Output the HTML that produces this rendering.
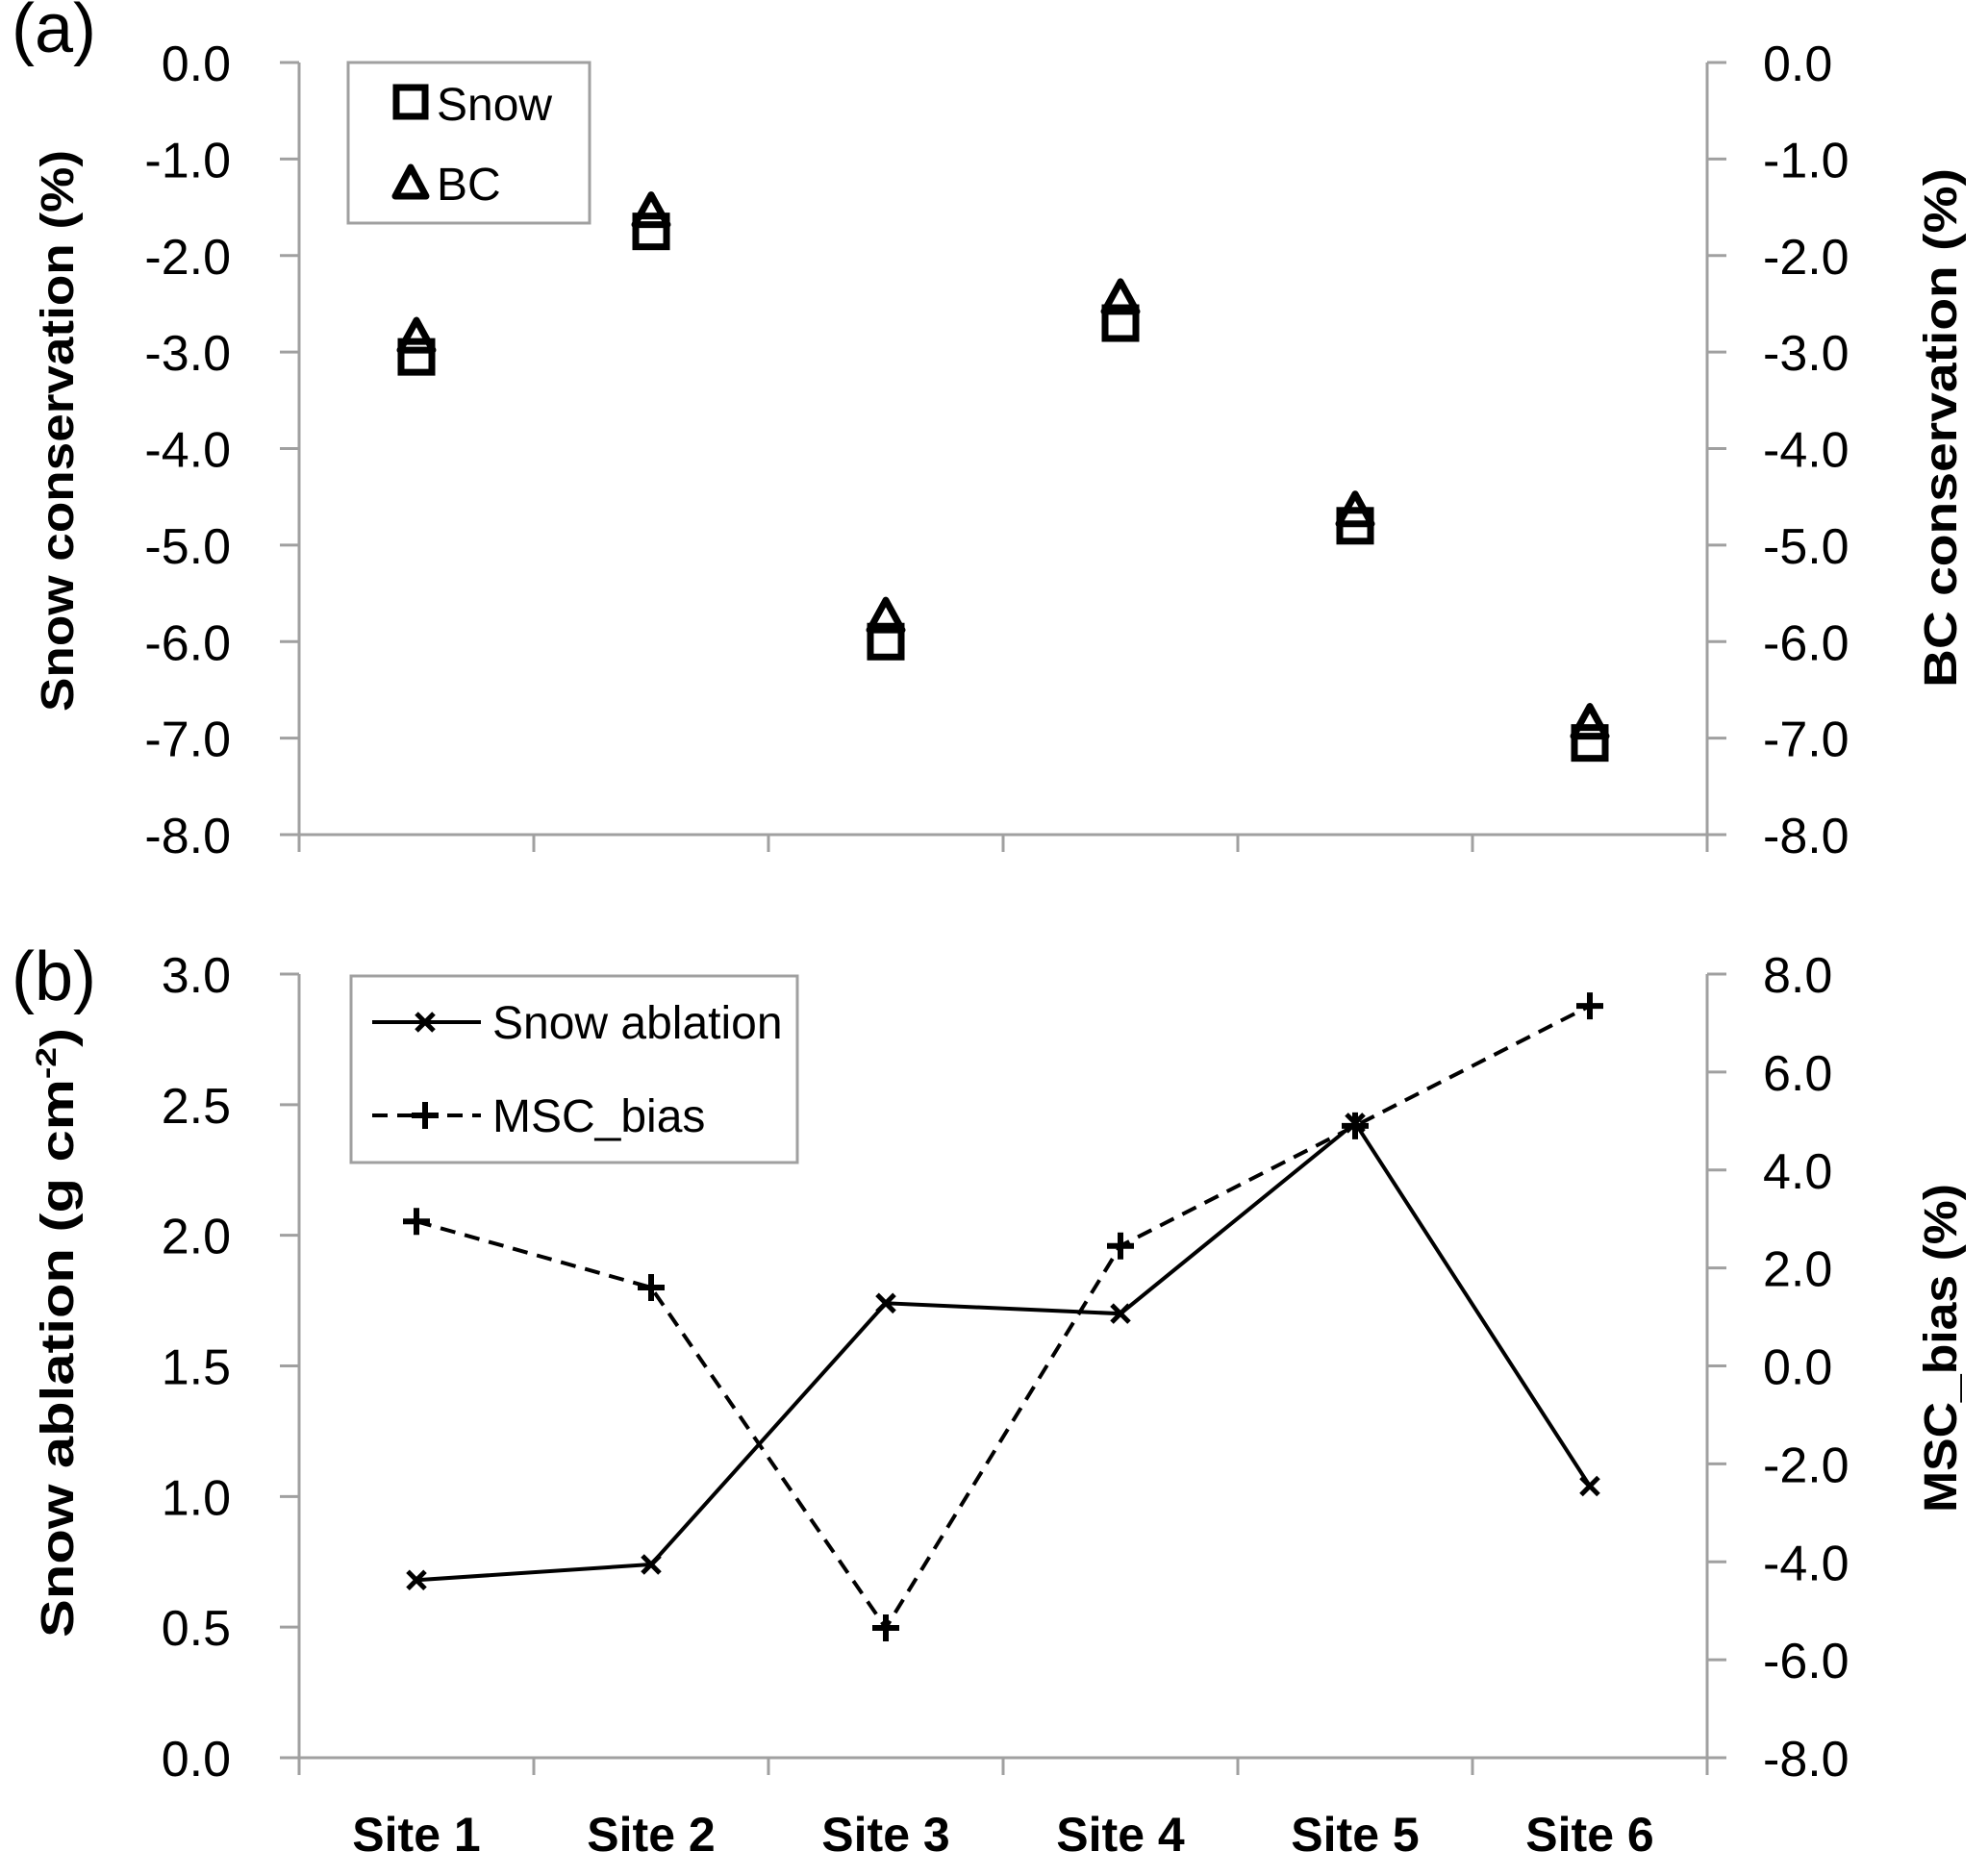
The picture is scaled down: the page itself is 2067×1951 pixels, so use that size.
<!DOCTYPE html>
<html><head><meta charset="utf-8"><style>
html,body{margin:0;padding:0;background:#fff;}
svg{display:block;font-family:"Liberation Sans",sans-serif;}
</style></head><body>
<svg id="chart" width="2067" height="1951" viewBox="0 0 2067 1951" xmlns="http://www.w3.org/2000/svg">
<g id="pa"></g>
<g id="pb"></g>
<text x="12" y="54" font-size="72">(a)</text>
<text x="12" y="1040" font-size="72">(b)</text>
<text transform="translate(76,448) rotate(-90)" text-anchor="middle" font-size="48" font-weight="bold" textLength="584" lengthAdjust="spacingAndGlyphs">Snow conservation (%)</text>
<text transform="translate(2034,445) rotate(-90)" text-anchor="middle" font-size="48" font-weight="bold" textLength="540" lengthAdjust="spacingAndGlyphs">BC conservation (%)</text>
<text transform="translate(76,1386) rotate(-90)" text-anchor="middle" font-size="48" font-weight="bold" textLength="634" lengthAdjust="spacingAndGlyphs">Snow ablation (g cm<tspan font-size="30" dy="-18">-2</tspan><tspan dy="18">)</tspan></text>
<text transform="translate(2034,1402) rotate(-90)" text-anchor="middle" font-size="48" font-weight="bold" textLength="342" lengthAdjust="spacingAndGlyphs">MSC_bias (%)</text>
<g>
<rect x="362" y="65" width="251" height="167" fill="#fff" stroke="#a0a0a0" stroke-width="3"/>
<rect x="412" y="91" width="30" height="30" fill="none" stroke="#000" stroke-width="7"/>
<text x="454" y="125" font-size="48">Snow</text>
<polygon points="427,174 443,204 411,204" fill="none" stroke="#000" stroke-width="7" stroke-linejoin="round"/>
<text x="454" y="208" font-size="48">BC</text>
</g>
<g>
<rect x="365" y="1015" width="464" height="194" fill="#fff" stroke="#a0a0a0" stroke-width="3"/>
<line x1="387" y1="1063" x2="500" y2="1063" stroke="#000" stroke-width="4"/>
<path d="M433,1054 l18,18 M451,1054 l-18,18" stroke="#000" stroke-width="5"/>
<text x="512" y="1080" font-size="48">Snow ablation</text>
<line x1="387" y1="1160" x2="500" y2="1160" stroke="#000" stroke-width="4" stroke-dasharray="16,10"/>
<path d="M428,1160 h28 M442,1146 v28" stroke="#000" stroke-width="6"/>
<text x="512" y="1177" font-size="48">MSC_bias</text>
</g>
</svg>
<script>
const sites = ["Site 1","Site 2","Site 3","Site 4","Site 5","Site 6"];
const snowCons = [-3.05,-1.75,-6.0,-2.7,-4.8,-7.05];
const bcCons = [-2.85,-1.55,-5.75,-2.45,-4.65,-6.85];
const snowAblation = [0.68,0.74,1.74,1.70,2.43,1.04];
const mscBias = [2.95,1.6,-5.35,2.45,4.9,7.35];
const ticksA = [0,-1,-2,-3,-4,-5,-6,-7,-8];
const ticksBL = [0,0.5,1,1.5,2,2.5,3];
const ticksBR = [-8,-6,-4,-2,0,2,4,6,8];

const NS="http://www.w3.org/2000/svg";
const X0=311,X1=1775;
const xC=i=>X0+(X1-X0)/sites.length*(i+0.5);
const xB=i=>X0+(X1-X0)/sites.length*i;
const yA=v=>65+(0-v)*(868-65)/8;
const yBL=v=>1828-v*(1828-1013)/3;
const yBR=v=>1828-(v+8)*(1828-1013)/16;
function el(p,t,a){const e=document.createElementNS(NS,t);for(const k in a)e.setAttribute(k,a[k]);p.appendChild(e);return e;}
const G='#a0a0a0';
function axes(g,top,bot,yl,lt,yr,rt,fmtL,fmtR){
  el(g,'line',{x1:X0,y1:top,x2:X0,y2:bot,stroke:G,'stroke-width':3});
  el(g,'line',{x1:X1,y1:top,x2:X1,y2:bot,stroke:G,'stroke-width':3});
  el(g,'line',{x1:X0-20,y1:bot,x2:X1+20,y2:bot,stroke:G,'stroke-width':3});
  for(let i=0;i<=sites.length;i++){el(g,'line',{x1:xB(i),y1:bot,x2:xB(i),y2:bot+18,stroke:G,'stroke-width':3});}
  lt.forEach(v=>{const y=yl(v);
    el(g,'line',{x1:X0-20,y1:y,x2:X0,y2:y,stroke:G,'stroke-width':3});
    const t=el(g,'text',{x:240,y:y+19,'text-anchor':'end','font-size':52});
    
    
    t.textContent=fmtL(v);});
  rt.forEach(v=>{const y=yr(v);
    el(g,'line',{x1:X1,y1:y,x2:X1+20,y2:y,stroke:G,'stroke-width':3});
    const t=el(g,'text',{x:1833,y:y+19,'font-size':52});
    
    
    t.textContent=fmtR(v);});
}
const pa=document.getElementById('pa'),pb=document.getElementById('pb');
axes(pa,65,868,yA,ticksA,yA,ticksA,v=>v.toFixed(1),v=>v.toFixed(1));
axes(pb,1013,1828,yBL,ticksBL,yBR,ticksBR,v=>v.toFixed(1),v=>v.toFixed(1));
sites.forEach((s,i)=>{const t=el(pb,'text',{x:xC(i),y:1925,'text-anchor':'middle','font-size':50,'font-weight':'bold'});
  
  
  t.textContent=s;});
snowCons.forEach((v,i)=>{const r=el(pa,'rect',{x:xC(i)-16,y:yA(v)-16,width:32,height:32,fill:'none',stroke:'#000','stroke-width':7});
  
  });
bcCons.forEach((v,i)=>{const x=xC(i),y=yA(v);
  const p=el(pa,'polygon',{points:`${x},${y-18} ${x+17},${y+13} ${x-17},${y+13}`,fill:'none',stroke:'#000','stroke-width':7,'stroke-linejoin':'round'});
  
  });
const l1=el(pb,'polyline',{points:snowAblation.map((v,i)=>xC(i)+','+yBL(v)).join(' '),fill:'none',stroke:'#000','stroke-width':4});


const l2=el(pb,'polyline',{points:mscBias.map((v,i)=>xC(i)+','+yBR(v)).join(' '),fill:'none',stroke:'#000','stroke-width':4,'stroke-dasharray':'16,10'});


snowAblation.forEach((v,i)=>{const x=xC(i),y=yBL(v);
  const p=el(pb,'path',{d:`M${x-9},${y-9} L${x+9},${y+9} M${x+9},${y-9} L${x-9},${y+9}`,stroke:'#000','stroke-width':5});
  
  });
mscBias.forEach((v,i)=>{const x=xC(i),y=yBR(v);
  const p=el(pb,'path',{d:`M${x-14},${y} H${x+14} M${x},${y-14} V${y+14}`,stroke:'#000','stroke-width':6});
  
  });
</script>
</body></html>
